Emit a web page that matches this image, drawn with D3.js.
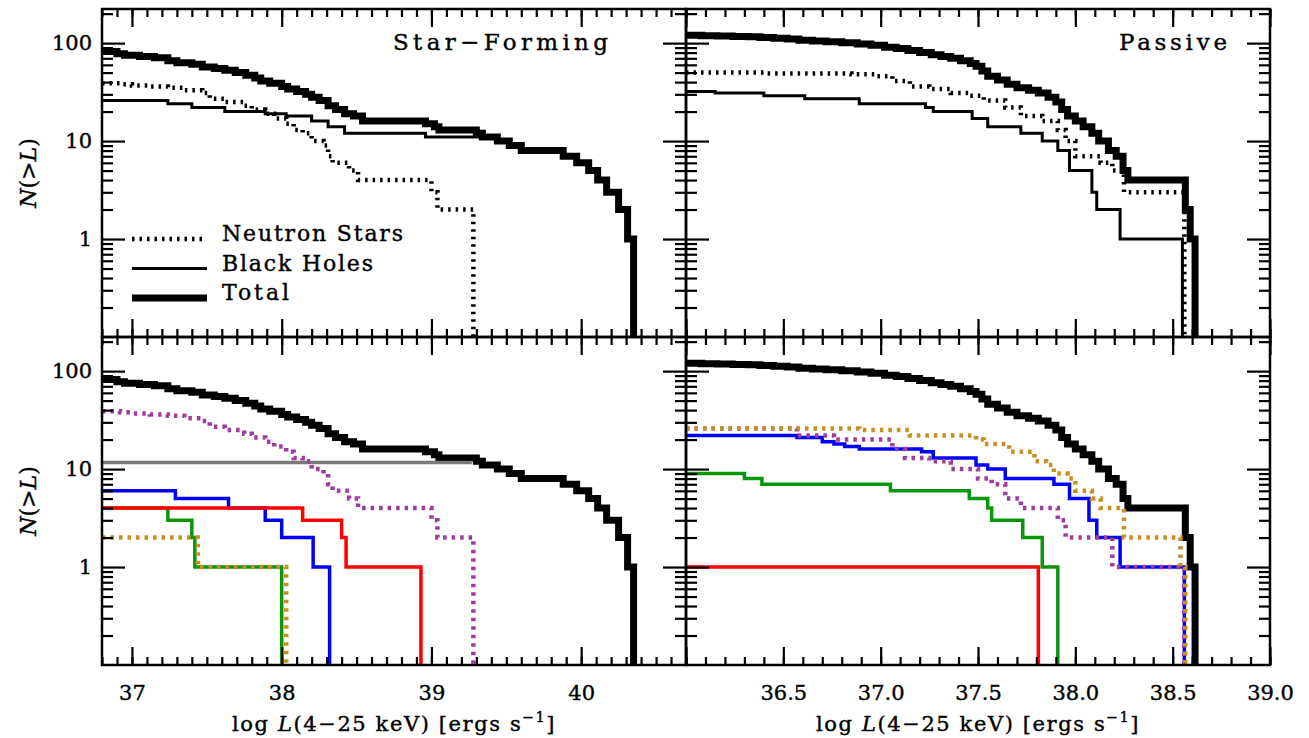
<!DOCTYPE html>
<html>
<head>
<meta charset="utf-8">
<script src="https://cdn.jsdelivr.net/npm/d3@7"></script>
<style>
body { margin: 0; background: #fff; }
svg { display: block; font-family: "DejaVu Serif", serif; }
text { stroke: #000; stroke-width: 0.4px; }
</style>
</head>
<body>
<script>
// each series: [log L, N(>L)] pairs, N holds from that L until the next step

// star-forming
const sfTotal = [[36.8, 82], [36.90, 78], [36.95, 75], [37.05, 73], [37.15, 71], [37.24, 66], [37.30, 63], [37.40, 61],
  [37.47, 57], [37.55, 55], [37.62, 53], [37.69, 50], [37.76, 47], [37.82, 44], [37.86, 41], [37.92, 39], [38.00, 36],
  [38.04, 34], [38.10, 32], [38.16, 30], [38.20, 28], [38.25, 26], [38.31, 23], [38.36, 21], [38.42, 19], [38.48, 18],
  [38.54, 16], [38.96, 15], [39.02, 14], [39.05, 13], [39.30, 12], [39.34, 11], [39.44, 10], [39.52, 9], [39.60, 8],
  [39.88, 7], [39.97, 6], [40.05, 5], [40.11, 4], [40.17, 3], [40.25, 2], [40.31, 1], [40.35, 0]];
const sfNS = [[36.8, 39], [36.92, 38], [37.00, 37], [37.12, 36], [37.24, 35], [37.35, 33], [37.47, 31], [37.52, 27],
  [37.62, 25], [37.75, 23], [37.80, 21], [37.89, 19], [37.95, 17], [38.03, 15], [38.08, 13], [38.14, 12], [38.20, 10],
  [38.28, 9], [38.31, 7], [38.34, 6], [38.45, 5], [38.51, 4], [39.00, 3], [39.04, 2], [39.28, 0]];
const sfBH = [[36.8, 26], [37.24, 24], [37.40, 22], [37.62, 20], [37.89, 19], [38.03, 18], [38.20, 16], [38.31, 14],
  [38.42, 12], [38.96, 11], [39.44, 10], [39.52, 9], [39.60, 8], [39.88, 7], [39.97, 6], [40.05, 5], [40.11, 4],
  [40.17, 3], [40.25, 2], [40.31, 1], [40.35, 0]];
const sfBlue = [[36.8, 6], [37.29, 5], [37.645, 4], [37.89, 3], [38.00, 2], [38.21, 1], [38.32, 0]];
const sfRed = [[36.8, 4], [38.14, 3], [38.40, 2], [38.43, 1], [38.93, 0]];
const sfGreen = [[36.8, 4], [37.24, 3], [37.40, 2], [37.42, 1], [38.00, 0]];
const sfOrange = [[36.8, 2], [37.44, 1], [38.03, 0]];
const sfGray = [[36.8, 11.7], [39.27, 11.7]];

// passive
const psTotal = [[36.0, 120], [36.08, 119], [36.16, 118], [36.24, 117], [36.32, 116], [36.38, 114], [36.45, 112],
  [36.52, 110], [36.58, 107], [36.65, 105], [36.72, 103], [36.80, 101], [36.88, 98], [36.95, 95], [37.02, 91],
  [37.08, 88], [37.14, 84], [37.20, 80], [37.26, 76], [37.31, 73], [37.36, 70], [37.41, 66], [37.46, 62], [37.49, 58],
  [37.52, 52], [37.55, 46], [37.60, 42], [37.65, 38], [37.70, 35], [37.76, 33], [37.81, 31], [37.86, 28], [37.90, 25],
  [37.93, 21], [37.96, 18], [38.00, 16], [38.04, 14], [38.085, 12], [38.12, 10], [38.17, 8], [38.21, 7], [38.245, 5],
  [38.27, 4], [38.565, 2], [38.59, 1], [38.615, 0]];
const psNS = [[36.0, 50], [36.40, 49], [36.85, 48], [36.975, 46], [37.06, 41], [37.15, 36], [37.25, 34], [37.36, 31],
  [37.45, 29], [37.53, 26], [37.64, 22], [37.72, 18], [37.83, 16], [37.91, 13], [37.95, 10], [38.00, 7], [38.13, 6],
  [38.19, 5], [38.25, 3], [38.56, 0]];
const psBH = [[36.0, 32], [36.15, 31], [36.40, 29], [36.61, 27], [36.89, 24], [37.23, 22], [37.27, 20], [37.47, 17],
  [37.55, 14], [37.72, 12], [37.83, 10], [37.91, 8], [37.97, 5], [38.085, 3], [38.11, 2], [38.23, 1], [38.55, 0]];
const psOrange = [[36.0, 26], [36.89, 25], [37.15, 22], [37.49, 20], [37.53, 18], [37.66, 15], [37.79, 12], [37.85, 11],
  [37.89, 9], [37.96, 8], [38.00, 6], [38.085, 5], [38.13, 4], [38.25, 2], [38.54, 1], [38.565, 0]];
const psPurple = [[36.0, 26], [36.57, 22], [36.76, 20], [37.06, 16], [37.125, 13], [37.25, 12], [37.36, 10], [37.50, 8],
  [37.57, 7], [37.64, 5], [37.72, 4], [37.91, 3], [37.95, 2], [38.19, 1], [38.56, 0]];
const psBlue = [[36.0, 22], [36.57, 21], [36.70, 19], [36.76, 18], [36.815, 17], [36.89, 16], [37.21, 15], [37.27, 13],
  [37.49, 11], [37.55, 10], [37.64, 8], [37.89, 7], [37.97, 5], [38.07, 3], [38.11, 2], [38.23, 1], [38.56, 0]];
const psGreen = [[36.0, 9], [36.30, 8], [36.39, 7], [37.05, 6], [37.455, 5], [37.55, 4], [37.57, 3], [37.73, 2],
  [37.83, 1], [37.91, 0]];
const psRed = [[36.0, 1], [37.81, 0]];

const sfTicks = [37, 38, 39, 40];
const psTicks = [36.5, 37.0, 37.5, 38.0, 38.5, 39.0];
const yTicks = [1, 10, 100];
const legendNames = ["Neutron Stars", "Black Holes", "Total"];

const W = 1309, H = 738;
const yDomain = [0.1, 223];

const styles = {
  total: {stroke: "#000", width: 7},
  bh: {stroke: "#000", width: 3},
  ns: {stroke: "#000", width: 4.5, dash: "2.5,5"},
  gray: {stroke: "#7a7a7a", width: 3.5},
  blue: {stroke: "#0000ff", width: 3.5},
  red: {stroke: "#ff0000", width: 3.5},
  green: {stroke: "#0a960a", width: 3.5},
  purple: {stroke: "#9e3d9e", width: 4.5, dash: "3.5,5"},
  orange: {stroke: "#c8901e", width: 4.5, dash: "3.5,5"}
};

const cols = [
  {x0: 102, x1: 686, dom: [36.8, 40.7], ticks: sfTicks, major: 1, fmt: d3.format("d")},
  {x0: 686, x1: 1270, dom: [36.0, 39.0], ticks: psTicks, major: 0.5, fmt: d3.format(".1f")}
];
const rows = [{y0: 9, y1: 337}, {y0: 337, y1: 665}];

const panels = [
  {col: 0, row: 0, name: "Star\u2212Forming", nameX: 393, nameW: 215,
    series: [[sfTotal, "total"], [sfBH, "bh"], [sfNS, "ns"]]},
  {col: 1, row: 0, name: "Passive", nameX: 1119, nameW: 108,
    series: [[psTotal, "total"], [psBH, "bh"], [psNS, "ns"]]},
  {col: 0, row: 1,
    series: [[sfTotal, "total"], [sfGray, "gray"], [sfBlue, "blue"], [sfGreen, "green"], [sfRed, "red"],
      [sfNS, "purple"], [sfOrange, "orange"]]},
  {col: 1, row: 1,
    series: [[psTotal, "total"], [psBlue, "blue"], [psGreen, "green"], [psRed, "red"], [psPurple, "purple"],
      [psOrange, "orange"]]}
];

const svg = d3.select("body").append("svg")
  .attr("width", W)
  .attr("height", H);

const yMinor = d3.range(-1, 3).flatMap(e => d3.range(2, 10).map(k => k * Math.pow(10, e)))
  .filter(v => v < yDomain[1]);

let tidy = a => {
  a.select(".domain").remove();
  a.attr("font-family", null).attr("font-size", 21);
  a.selectAll("line").attr("stroke-width", 2.2);
};

panels.forEach((p, i) => {
  const c = cols[p.col], r = rows[p.row];
  const x = d3.scaleLinear().domain(c.dom).range([c.x0, c.x1]);
  const y = d3.scaleLog().domain(yDomain).range([r.y1, r.y0]);
  const g = svg.append("g");

  g.append("clipPath").attr("id", "clip" + i)
    .append("rect")
    .attr("x", c.x0).attr("y", r.y0)
    .attr("width", c.x1 - c.x0).attr("height", r.y1 - r.y0);

  const line = d3.line()
    .x(d => x(d[0]))
    .y(d => d[1] > 0 ? y(d[1]) : r.y1 + 20)
    .curve(d3.curveStepAfter);

  g.append("g")
    .attr("clip-path", `url(#clip${i})`)
    .attr("fill", "none")
    .selectAll("path")
    .data(p.series)
    .join("path")
    .attr("d", d => line(d[0]))
    .attr("stroke", d => styles[d[1]].stroke)
    .attr("stroke-width", d => styles[d[1]].width)
    .attr("stroke-dasharray", d => styles[d[1]].dash || null);

  // inward ticks on all four sides
  const xMinor = d3.range(Math.round(c.dom[0] * 10), Math.round(c.dom[1] * 10) + 1).map(v => v / 10);
  const xMajor = d3.range(Math.ceil(c.dom[0] / c.major), Math.floor(c.dom[1] / c.major) + 1).map(v => v * c.major);
  [[d3.axisBottom, r.y1], [d3.axisTop, r.y0]].forEach(([ax, ty]) => {
    g.append("g").attr("transform", `translate(0,${ty})`)
      .call(ax(x).tickValues(xMinor).tickSize(-8).tickFormat(""))
      .call(tidy);
    g.append("g").attr("transform", `translate(0,${ty})`)
      .call(ax(x).tickValues(xMajor).tickSize(-18).tickFormat(""))
      .call(tidy);
  });
  [[d3.axisLeft, c.x0], [d3.axisRight, c.x1]].forEach(([ax, tx]) => {
    g.append("g").attr("transform", `translate(${tx},0)`)
      .call(ax(y).tickValues(yMinor).tickSize(-11).tickFormat(""))
      .call(tidy);
    g.append("g").attr("transform", `translate(${tx},0)`)
      .call(ax(y).tickValues(yTicks).tickSize(-23).tickFormat(""))
      .call(tidy);
  });

  g.append("rect")
    .attr("x", c.x0).attr("y", r.y0)
    .attr("width", c.x1 - c.x0).attr("height", r.y1 - r.y0)
    .attr("fill", "none")
    .attr("stroke", "#000")
    .attr("stroke-width", 2.5);

  if (p.row === 1) {
    g.append("g").attr("transform", `translate(0,${r.y1})`)
      .call(d3.axisBottom(x).tickValues(c.ticks).tickSize(0).tickPadding(20).tickFormat(c.fmt))
      .call(tidy);

    const t = g.append("text")
      .attr("x", (c.x0 + c.x1) / 2)
      .attr("y", 731)
      .attr("text-anchor", "middle")
      .attr("font-size", 21)
      .attr("letter-spacing", 1.6);
    t.append("tspan").text("log ");
    t.append("tspan").attr("font-style", "italic").text("L");
    t.append("tspan").text("(4\u221225 keV) [ergs s");
    t.append("tspan").attr("font-size", 14).attr("dy", -9).text("\u22121");
    t.append("tspan").attr("dy", 9).text("]");
  }

  if (p.col === 0) {
    g.append("g").attr("transform", `translate(${c.x0},0)`)
      .call(d3.axisLeft(y).tickValues(yTicks).tickSize(0).tickPadding(10).tickFormat(d3.format("d")))
      .call(tidy);

    const cy = (r.y0 + r.y1) / 2;
    const t = g.append("text")
      .attr("transform", `translate(36,${cy}) rotate(-90)`)
      .attr("text-anchor", "middle")
      .attr("font-size", 22);
    t.append("tspan").attr("font-style", "italic").text("N");
    t.append("tspan").text("(>");
    t.append("tspan").attr("font-style", "italic").text("L");
    t.append("tspan").text(")");
  }

  if (p.name) {
    g.append("text")
      .attr("x", p.nameX)
      .attr("y", 50)
      .attr("font-size", 23)
      .attr("textLength", p.nameW)
      .text(p.name);
  }
});

// legend in the star-forming panel
const legend = svg.append("g")
  .selectAll("g")
  .data(legendNames.map((n, i) => ({name: n, key: ["ns", "bh", "total"][i], i})))
  .join("g")
  .attr("transform", d => `translate(0,${239 + d.i * 29.5})`);

legend.append("line")
  .attr("x1", 132).attr("x2", 207)
  .attr("stroke", d => styles[d.key].stroke)
  .attr("stroke-width", d => styles[d.key].width)
  .attr("stroke-dasharray", d => styles[d.key].dash || null);

legend.append("text")
  .attr("x", 222)
  .attr("y", 2)
  .attr("font-size", 22)
  .attr("textLength", d => [181, 151, 67][d.i])
  .text(d => d.name);
</script>
</body>
</html>
